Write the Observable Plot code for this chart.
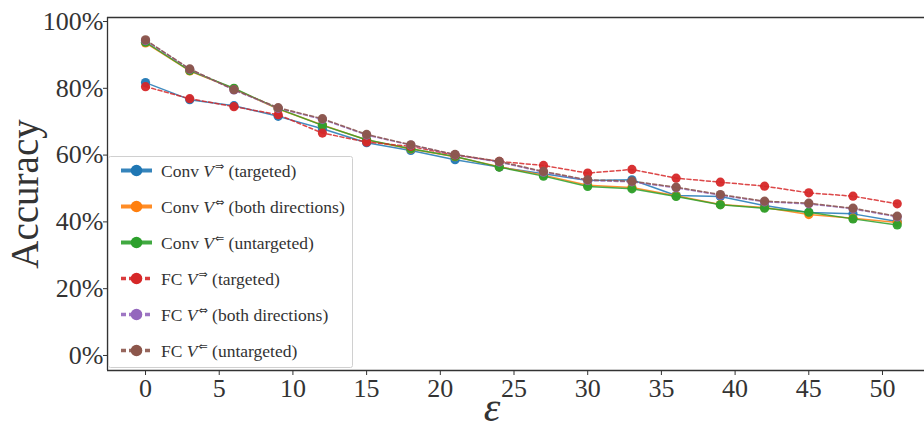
<!DOCTYPE html>
<html>
<head>
<meta charset="utf-8">
<script src="https://cdn.jsdelivr.net/npm/d3@7"></script>
<script src="https://cdn.jsdelivr.net/npm/@observablehq/plot@0.6"></script>
<style>
  html, body { margin: 0; padding: 0; background: #fff; }
</style>
</head>
<body>
<script>
// ---- data ----
const eps = [0, 3, 6, 9, 12, 15, 18, 21, 24, 27, 30, 33, 36, 39, 42, 45, 48, 51];
const convTargeted   = [0.817, 0.766, 0.748, 0.716, 0.679, 0.637, 0.614, 0.586, 0.564, 0.544, 0.524, 0.526, 0.479, 0.476, 0.449, 0.428, 0.424, 0.401];
const convBoth       = [0.936, 0.852, 0.799, 0.738, 0.690, 0.645, 0.618, 0.595, 0.565, 0.540, 0.510, 0.503, 0.478, 0.452, 0.443, 0.422, 0.411, 0.398];
const convUntargeted = [0.938, 0.853, 0.800, 0.739, 0.689, 0.646, 0.619, 0.596, 0.564, 0.537, 0.506, 0.499, 0.476, 0.451, 0.441, 0.429, 0.409, 0.391];
const fcTargeted     = [0.805, 0.769, 0.745, 0.721, 0.666, 0.639, 0.626, 0.600, 0.581, 0.569, 0.546, 0.557, 0.531, 0.519, 0.507, 0.487, 0.477, 0.454];
const fcBoth         = [0.943, 0.857, 0.795, 0.740, 0.707, 0.660, 0.630, 0.601, 0.579, 0.549, 0.524, 0.520, 0.502, 0.480, 0.460, 0.454, 0.439, 0.415];
const fcUntargeted   = [0.945, 0.858, 0.796, 0.742, 0.709, 0.662, 0.631, 0.602, 0.581, 0.551, 0.526, 0.522, 0.504, 0.482, 0.462, 0.456, 0.441, 0.417];

const seriesPrefix = ["Conv ", "Conv ", "Conv ", "FC ", "FC ", "FC "];
const seriesArrow  = ["\u21D2", "\u21D4", "\u21D0", "\u21D2", "\u21D4", "\u21D0"];
const seriesSuffix = [" (targeted)", " (both directions)", " (untargeted)", " (targeted)", " (both directions)", " (untargeted)"];
const seriesValues = [convTargeted, convBoth, convUntargeted, fcTargeted, fcBoth, fcUntargeted];
const seriesColors = ["#1f77b4", "#ff7f0e", "#2ca02c", "#d62728", "#9467bd", "#8c564b"];
const seriesDashed = [false, false, false, true, true, true];

const xTicks = [0, 5, 10, 15, 20, 25, 30, 35, 40, 45, 50];
const yTicks = [0, 0.2, 0.4, 0.6, 0.8, 1.0];
const xDomain = [-2.58, 52.85];
const yDomain = [-0.045, 1.012];

// ---- build ----
const rows = seriesValues.map((vals, s) => vals.map((v, i) => ({s, eps: eps[i], acc: v})));

const marks = [];
rows.forEach((data, s) => {
  marks.push(Plot.line(data, {
    x: "eps", y: "acc", stroke: seriesColors[s], strokeWidth: 1.5, strokeOpacity: 0.85,
    strokeDasharray: seriesDashed[s] ? "4,2.5" : null
  }));
  marks.push(Plot.dot(data, {x: "eps", y: "acc", r: 4.6, fill: seriesColors[s], fillOpacity: 0.95, stroke: "none"}));
});

const chart = Plot.plot({
  width: 924,
  height: 430,
  marginLeft: 107,
  marginRight: 0,
  marginTop: 17,
  marginBottom: 60,
  style: {fontFamily: "'Liberation Serif', 'Times New Roman', serif", color: "#333", background: "#fff"},
  x: {domain: xDomain},
  y: {domain: yDomain},
  marks: [
    Plot.axisY({ticks: yTicks, tickFormat: d => Math.round(d * 100) + "%", tickSize: 4, tickPadding: 0, fontSize: 26, label: null}),
    Plot.axisX({ticks: xTicks, tickSize: 5, tickPadding: 3, fontSize: 26, label: null}),
    ...marks,
    Plot.ruleY([yDomain[0]], {stroke: "#333", strokeWidth: 1.3}),
    Plot.ruleY([yDomain[1]], {stroke: "#333", strokeWidth: 1.3}),
    Plot.ruleX([xDomain[0]], {stroke: "#333", strokeWidth: 1.3})
  ]
});
document.body.appendChild(chart);

const svg = d3.select(chart);

// axis labels
svg.append("text")
  .attr("transform", "translate(38,194) rotate(-90)")
  .attr("text-anchor", "middle")
  .attr("font-size", 39)
  .attr("fill", "#333")
  .text("Accuracy");

svg.append("text")
  .attr("x", 492).attr("y", 421)
  .attr("text-anchor", "middle")
  .attr("font-size", 42)
  .attr("font-style", "italic")
  .attr("fill", "#333")
  .text("\u03B5");

// legend
const lg = svg.append("g").attr("text-anchor", "start");
lg.append("rect")
  .attr("x", 108.5).attr("y", 156.5).attr("width", 244).attr("height", 211).attr("rx", 2)
  .attr("fill", "#fff").attr("fill-opacity", 0.85).attr("stroke", "#d0d0d0");
seriesValues.forEach((_, s) => {
  const yy = 170.5 + s * 36;
  lg.append("line")
    .attr("x1", 121).attr("x2", 152).attr("y1", yy).attr("y2", yy)
    .attr("stroke", seriesColors[s]).attr("stroke-width", seriesDashed[s] ? 3.5 : 4)
    .attr("stroke-dasharray", seriesDashed[s] ? "5,3" : null)
    .attr("stroke-opacity", 0.9);
  lg.append("circle").attr("cx", 136.5).attr("cy", yy).attr("r", 5.8).attr("fill", seriesColors[s]);
  const t = lg.append("text").attr("x", 161).attr("y", yy).attr("dy", "0.35em")
    .attr("text-anchor", "start")
    .attr("font-size", 17.5).attr("fill", "#333");
  t.append("tspan").text(seriesPrefix[s]);
  t.append("tspan").attr("font-style", "italic").text("V");
  t.append("tspan").attr("font-family", "'DejaVu Sans', sans-serif").attr("font-size", 11).attr("dy", -7).attr("dx", 1).text(seriesArrow[s]);
  t.append("tspan").attr("dy", 7).text(seriesSuffix[s]);
});
</script>
</body>
</html>
